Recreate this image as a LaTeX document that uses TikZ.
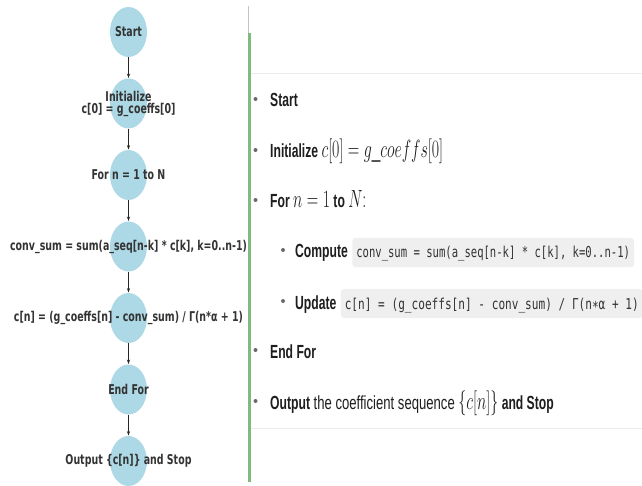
\documentclass[tikz,border=0pt]{standalone}
\usepackage{fontspec}
\usepackage{graphicx}
\setmainfont{Liberation Sans}
\newfontfamily\djv{DejaVu Sans}
\newfontfamily\monof{DejaVu Sans Mono}
\usetikzlibrary{shapes.geometric,arrows.meta}
\definecolor{flowblue}{HTML}{ADD8E6}
\definecolor{labgray}{HTML}{333333}
\definecolor{txt}{HTML}{1E1E1E}
\definecolor{codebg}{HTML}{EFEFEF}
\definecolor{codetxt}{HTML}{333333}
\definecolor{bulgray}{HTML}{6A6A6A}
\definecolor{rulegreen}{HTML}{7FBA7F}
\definecolor{rulegray}{HTML}{C4C4C4}
\definecolor{sepgray}{HTML}{ECECEC}
\newcommand{\lsq}[1]{\scalebox{0.70}[1]{#1}}
\newcommand{\rsq}[1]{\scalebox{0.64}[1]{#1}}
\newcommand{\rsqr}[1]{\scalebox{0.69}[1]{#1}}
\newcommand{\csq}[1]{\scalebox{0.74}[1]{#1}}
\newcommand{\csqn}[1]{\scalebox{0.705}[1]{#1}}
\newcommand{\mth}[1]{{\fontsize{24}{24}\selectfont$#1$}}
\begin{document}
\begin{tikzpicture}[x=1pt,y=-1pt,
  flow/.style={ellipse, fill=flowblue, draw=none, minimum width=37pt, minimum height=50pt, inner sep=0pt},
  lab/.style={text=labgray, font=\djv\bfseries\fontsize{13.5}{13}\selectfont, align=center, inner sep=0pt},
  arr/.style={-{Stealth[length=4.5pt,width=3.2pt]}, draw=black!85, line width=0.6pt, shorten >=0.3pt},
  item/.style={anchor=base west, inner sep=0pt, text=txt, font=\fontsize{19}{23}\selectfont},
  codebox/.style={anchor=base west, fill=codebg, rounded corners=3pt, text=codetxt,
     font=\monof\fontsize{15}{15}\selectfont, inner xsep=4pt, inner ysep=0pt,
     text height=20pt, text depth=9pt},
  bul/.style={circle, fill=bulgray, inner sep=0pt, minimum size=4pt},
  sep/.style={draw=sepgray, line width=0.8pt}
]
\useasboundingbox (0,0) rectangle (642,486);

% ---- left flowchart ----
\node[flow] (s1) at (128.5,32) {};
\node[flow] (s2) at (128.5,103.5) {};
\node[flow] (s3) at (128.5,175) {};
\node[flow] (s4) at (128.5,246.5) {};
\node[flow] (s5) at (128.5,318) {};
\node[flow] (s6) at (128.5,389.5) {};
\node[flow] (s7) at (128.5,461) {};

\node[lab] (t1) at (s1) {\lsq{Start}};
\node[lab] (t2) at (s2) {\lsq{Initialize}\\[-1pt]\lsq{c[0] = g\_coeffs[0]}};
\node[lab] (t3) at (s3) {\lsq{For n = 1 to N}};
\node[lab] (t4) at (s4) {\lsq{conv\_sum = sum(a\_seq[n-k] * c[k], k=0..n-1)}};
\node[lab] (t5) at (s5) {\lsq{c[n] = (g\_coeffs[n] - conv\_sum) / Γ(n*α + 1)}};
\node[lab] (t6) at (s6) {\lsq{End For}};
\node[lab] (t7) at (s7) {\lsq{Output \{c[n]\} and Stop}};

\draw[arr] (s1) -- (s2);
\draw[arr] (s2) -- (s3);
\draw[arr] (s3) -- (s4);
\draw[arr] (s4) -- (s5);
\draw[arr] (s5) -- (s6);
\draw[arr] (s6) -- (s7);

% ---- right panel rules ----
\coordinate (g0) at (248,6);
\coordinate (g1) at (248,34);
\coordinate (v0) at (249.5,33);
\coordinate (v1) at (249.5,482);
\draw[draw=rulegray, line width=0.8pt] (g0) -- (g1);
\draw[draw=rulegreen, line width=2.4pt] (v0) -- (v1);
\coordinate (h0) at (251,73);
\coordinate (h1) at (642,73);
\coordinate (h2) at (251,428);
\coordinate (h3) at (642,428);
\draw[sep] (h0) -- (h1);
\draw[sep] (h2) -- (h3);

% ---- right list ----
\node[item] (r1) at (270,107) {\rsq{\textbf{Start}}};
\node[item] (r2) at (270,158) {\rsq{\textbf{Initialize} \mth{c[0] = g\_coeffs[0]}}};
\node[item] (r3) at (270,208) {\rsq{\textbf{For} \mth{n = 1} \textbf{to} \mth{N}\mth{:}}};
\node[item] (r4) at (295,258) {\rsq{\textbf{Compute}}};
\node[codebox] (c4) at ([xshift=4pt]r4.base east) {\csqn{conv\_sum = sum(a\_seq[n-k] * c[k], k=0..n-1)}};
\node[item] (r5) at (295,309) {\rsq{\textbf{Update}}};
\node[codebox] (c5) at ([xshift=4pt]r5.base east) {\csq{c[n] = (g\_coeffs[n] - conv\_sum) / Γ(n∗α + 1)}};
\node[item] (r6) at (270,358) {\rsq{\textbf{End For}}};
\node[item] (r7) at (270,409) {\rsq{\textbf{Output}}\rsqr{ the coefficient sequence }\rsq{\mth{\{c[n]\}} \textbf{and Stop}}};

\node[bul] (b1) at (255.5,99) {};
\node[bul] (b2) at (255.5,150) {};
\node[bul] (b3) at (255.5,200) {};
\node[bul] (b4) at (283,250) {};
\node[bul] (b5) at (283,301) {};
\node[bul] (b6) at (255.5,350) {};
\node[bul] (b7) at (255.5,401) {};
\end{tikzpicture}
\end{document}
